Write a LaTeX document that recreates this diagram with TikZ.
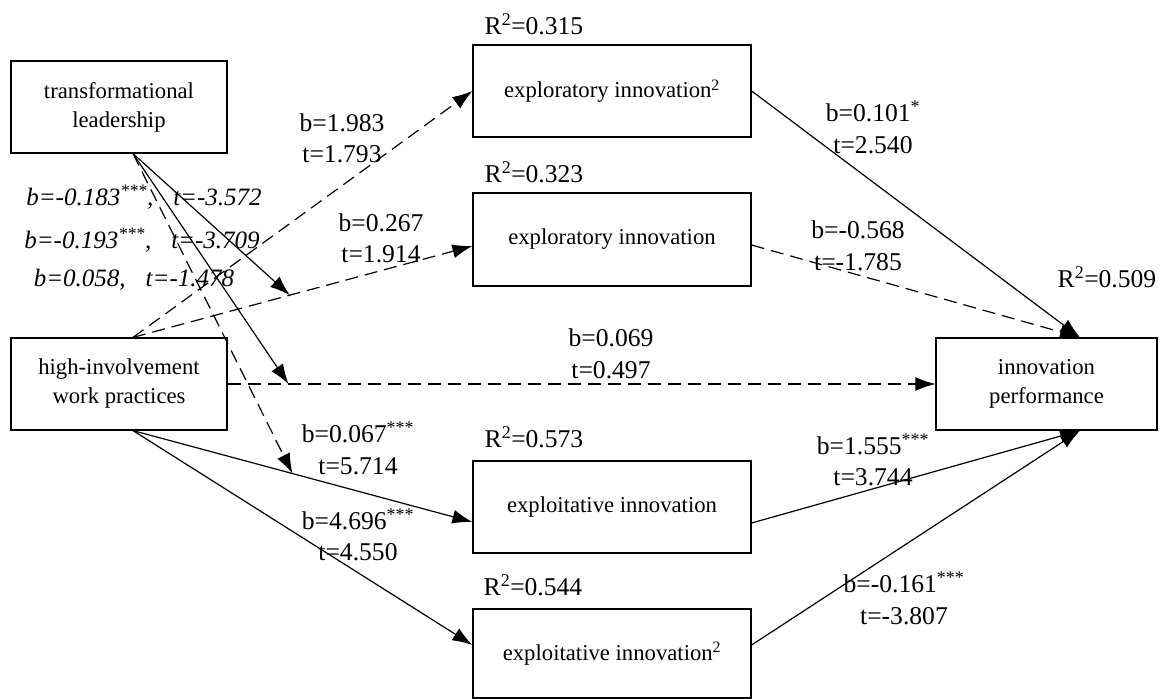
\documentclass[tikz,border=0pt]{standalone}
\usepackage{fontspec}
\setmainfont{Liberation Serif}
\usetikzlibrary{arrows.meta,calc}
\begin{document}
\begin{tikzpicture}[x=1pt,y=-1pt,
  box/.style={draw,line width=1.2pt,inner sep=0pt,align=center,font=\fontsize{22.7}{29}\selectfont},
  lbl/.style={inner sep=0pt,align=center,font=\fontsize{25.6}{31.5}\selectfont},
  ilbl/.style={inner sep=0pt,font=\fontsize{25}{30}\selectfont\itshape},
  conn/.style={line width=1.2pt,-{Latex[length=20pt,width=14pt]}},
  dsh/.style={dash pattern=on 13pt off 7pt}
]
\useasboundingbox (0,0) rectangle (1163,699);

% boxes
\node[box,minimum width=216pt,minimum height=92pt] (tl) at (119,107) {transformational\\leadership};
\node[box,minimum width=216pt,minimum height=92pt] (hiwp) at (119,384) {high-involvement\\work practices};
\node[box,minimum width=278pt,minimum height=92pt] (ex2) at (612,91) {exploratory innovation\textsuperscript{2}};
\node[box,minimum width=278pt,minimum height=93pt] (ex) at (612,239.5) {exploratory innovation};
\node[box,minimum width=278pt,minimum height=92pt] (ei) at (612,507) {exploitative innovation};
\node[box,minimum width=278pt,minimum height=89pt] (ei2) at (612,653.5) {exploitative innovation\textsuperscript{2}};
\node[box,minimum width=221pt,minimum height=92pt] (ip) at (1046.5,384) {innovation\\performance};

% ports
\coordinate (tB) at ($(tl.south)+(14,0)$);
\coordinate (hT) at ($(hiwp.north)+(14,0)$);
\coordinate (hB) at ($(hiwp.south)+(14,0)$);
\coordinate (exIn) at ($(ex.west)+(0,6.5)$);
\coordinate (exOut) at ($(ex.east)+(0,5.5)$);
\coordinate (eiIn) at ($(ei.west)+(0,15)$);
\coordinate (eiOut) at ($(ei.east)+(0,16)$);
\coordinate (ei2In) at ($(ei2.west)+(0,-8.5)$);
\coordinate (ei2Out) at ($(ei2.east)+(0,-8.5)$);
\coordinate (ipT) at ($(ip.north)+(33.5,0)$);
\coordinate (ipB) at ($(ip.south)+(33.5,0)$);

% connectors
\draw[conn,dsh] (hT) -- (ex2.west);
\draw[conn,dsh] (hT) -- (exIn);
\draw[conn,dsh] (hiwp.east) -- (ip.west);
\draw[conn] (hB) -- (eiIn);
\draw[conn] (hB) -- (ei2In);
\draw[conn] (ex2.east) -- (ipT);
\draw[conn,dsh] (exOut) -- (ipT);
\draw[conn] (eiOut) -- (ipB);
\draw[conn] (ei2Out) -- (ipB);
\draw[conn] (tB) -- ($(hT)!0.462!(exIn)$);
\draw[conn] (tB) -- ($(hiwp.east)!0.086!(ip.west)$);
\draw[conn,dsh] (tB) -- ($(hB)!0.47!(eiIn)$);

% R squared labels
\node[lbl] (r1) at (534,24) {R\textsuperscript{2}=0.315};
\node[lbl] (r2) at (534,172) {R\textsuperscript{2}=0.323};
\node[lbl] (r3) at (534,437) {R\textsuperscript{2}=0.573};
\node[lbl] (r4) at (533,585) {R\textsuperscript{2}=0.544};
\node[lbl] (r5) at (1107,277) {R\textsuperscript{2}=0.509};

% path labels
\node[lbl] (l1) at (342,138.5) {b=1.983\\t=1.793};
\node[lbl] (l2) at (381,238.5) {b=0.267\\t=1.914};
\node[lbl] (l3) at (611,354) {b=0.069\\t=0.497};
\node[lbl] (l4) at (358,448.5) {b=0.067\textsuperscript{***}\\t=5.714};
\node[lbl] (l5) at (358,535) {b=4.696\textsuperscript{***}\\t=4.550};
\node[lbl] (l6) at (873,127.5) {b=0.101\textsuperscript{*}\\t=2.540};
\node[lbl] (l7) at (858,246) {b=-0.568\\t=-1.785};
\node[lbl] (l8) at (873,460) {b=1.555\textsuperscript{***}\\t=3.744};
\node[lbl] (l9) at (904,598.5) {b=-0.161\textsuperscript{***}\\t=-3.807};

% italic labels
\node[ilbl] (i1) at (144,197) {b=-0.183\textsuperscript{***},\hspace{0.8em}t=-3.572};
\node[ilbl] (i2) at (142,240) {b=-0.193\textsuperscript{***},\hspace{0.8em}t=-3.709};
\node[ilbl] (i3) at (134,280) {b=0.058,\hspace{0.8em}t=-1.478};
\end{tikzpicture}
\end{document}
